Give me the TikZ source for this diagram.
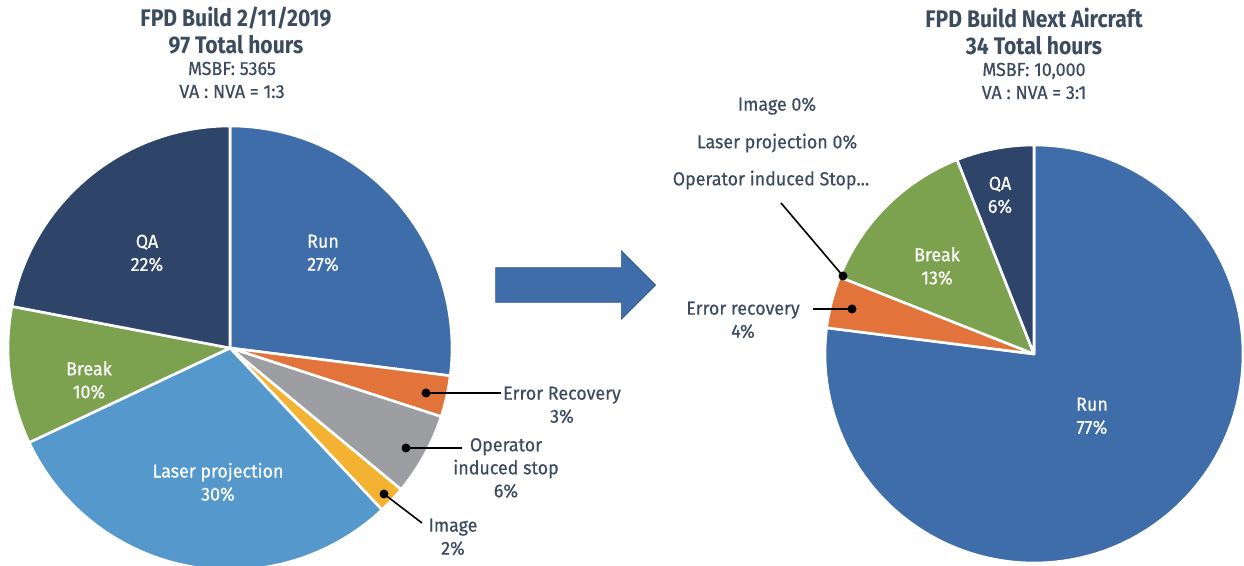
\documentclass[tikz,border=0pt]{standalone}
\usepackage{fontspec}
\setmainfont{Fira Sans}[FakeStretch=0.95, FakeBold=0.5]
\newfontfamily\titlefont{Fira Sans}[FakeStretch=0.88]
\usepackage{tikz}
\usetikzlibrary{positioning,calc,shapes.arrows}
\definecolor{runblue}{HTML}{3E6DAA}
\definecolor{qanavy}{HTML}{2E4468}
\definecolor{breakgreen}{HTML}{7DA24F}
\definecolor{laserblue}{HTML}{5598CB}
\definecolor{errorange}{HTML}{E2733A}
\definecolor{stopgrey}{HTML}{9C9EA1}
\definecolor{imgyellow}{HTML}{F4B233}
\definecolor{labelgrey}{HTML}{3C4B5E}
\tikzset{
  piecut/.style={draw=white, line width=1.3pt, line join=round},
  slicetext/.style={align=center, text=white, inner sep=1pt, font=\fontsize{9.4}{11.5}\selectfont},
  calltext/.style={align=center, text=labelgrey, inner sep=1pt, font=\fontsize{9.4}{11.5}\selectfont},
  titletext/.style={align=center, text=labelgrey, inner sep=1pt, font=\titlefont\fontsize{12}{13.5}\selectfont\bfseries},
  leaderdot/.style={circle, fill=black, inner sep=0pt, minimum size=4.5pt},
  leader/.style={black, line width=0.8pt},
}
% centre, radius, start angle, end angle, colour
\newcommand{\pieslice}[5]{%
  \filldraw[piecut, fill=#5] (#1) -- ++(#3:#2) arc[start angle=#3, end angle=#4, radius=#2] -- cycle;}

\begin{document}
\begin{tikzpicture}[x=0.5pt, y=0.5pt]
  \useasboundingbox (0,0) rectangle (1244,566);
  \coordinate (lc) at (230,218);
  \coordinate (rc) at (1034,212);

  % left pie
  \pieslice{lc}{222}{90}{-7.2}{runblue}
  \pieslice{lc}{222}{-7.2}{-18}{errorange}
  \pieslice{lc}{222}{-18}{-39.6}{stopgrey}
  \pieslice{lc}{222}{-39.6}{-46.8}{imgyellow}
  \pieslice{lc}{222}{-46.8}{-154.8}{laserblue}
  \pieslice{lc}{222}{-154.8}{-190.8}{breakgreen}
  \pieslice{lc}{222}{-190.8}{-270}{qanavy}

  \node[titletext] (ltitle) at (236,535) {FPD Build 2/11/2019\\97 Total hours};
  \node[calltext] (lsub) at (232,486) {MSBF: 5365\\VA : NVA = 1:3};

  \node[slicetext] (lqa) at (147,313) {QA\\22\%};
  \node[slicetext] (lrun) at (323,313) {Run\\27\%};
  \node[slicetext] (lbreak) at (89,186) {Break\\10\%};
  \node[slicetext] (llaser) at (218,84) {Laser projection\\30\%};

  \node[calltext] (lerr) at (562,161) {Error Recovery\\3\%};
  \node[calltext] (lstop) at (506,98) {Operator\\induced stop\\6\%};
  \node[calltext] (limg) at (453,29) {Image\\2\%};

  \node[leaderdot] (derr) at (426,173) {};
  \node[leaderdot] (dstop) at (406,118) {};
  \node[leaderdot] (dimg) at (384,72) {};
  \draw[leader] (derr.center) -- (derr -| lerr.west);
  \draw[leader] (dstop.center) -- ++(56,0);
  \draw[leader] (dimg.center) -- (422,43);

  % shift arrow
  \node[single arrow, fill=runblue, draw=runblue!85!black, line width=0.3pt,
    inner sep=8.5pt, minimum height=80pt, single arrow head extend=8.5pt] (shift) at (567,281) {};

  % right pie
  \pieslice{rc}{209}{90}{-187.2}{runblue}
  \pieslice{rc}{209}{-187.2}{-201.6}{errorange}
  \pieslice{rc}{209}{-201.6}{-248.4}{breakgreen}
  \pieslice{rc}{209}{-248.4}{-270}{qanavy}

  \node[titletext] (rtitle) at (1034,535) {FPD Build Next Aircraft\\34 Total hours};
  \node[calltext] (rsub) at (1034,485) {MSBF: 10,000\\VA : NVA = 3:1};

  \node[slicetext] (rqa) at (1000,371) {QA\\6\%};
  \node[slicetext] (rbreak) at (937,300) {Break\\13\%};
  \node[slicetext] (rrun) at (1092,150) {Run\\77\%};

  \node[calltext] (rimg) at (777,460) {Image 0\%};
  \node[calltext] (rlaser) at (777,423) {Laser projection 0\%};
  \node[calltext] (rstop) at (771,386) {Operator induced Stop...};
  \node[calltext] (rerr) at (743,246) {Error recovery\\4\%};

  \node[leaderdot] (drstop) at (843,290) {};
  \node[leaderdot] (drerr) at (852,257) {};
  \draw[leader] (drstop.center) -- (781,363);
  \draw[leader] (drerr.center) -- (813,257);
\end{tikzpicture}
\end{document}
